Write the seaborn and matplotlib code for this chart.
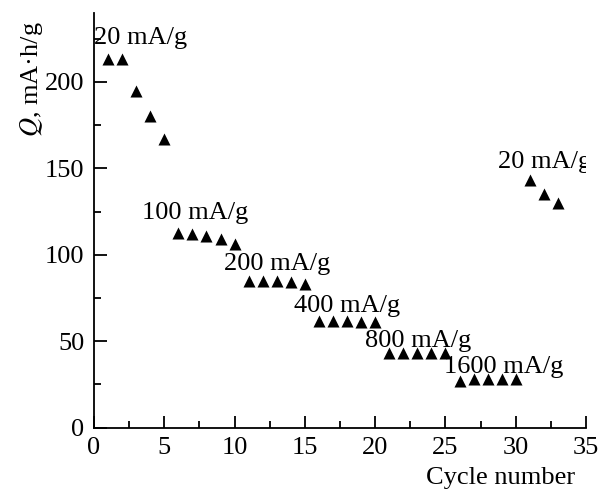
import matplotlib
matplotlib.use("Agg")
import matplotlib.pyplot as plt
import seaborn as sns
import pandas as pd
from matplotlib.ticker import MultipleLocator

cycles = list(range(1, 31)) + [31, 32, 33]
capacity = [213, 213, 195, 180, 167,
            112.5, 112, 111, 109, 106,
            85, 85, 85, 84, 83,
            62, 62, 62, 61, 61,
            43, 43, 43, 43, 43,
            27, 28, 28, 28, 28,
            143, 135, 130]
rate_labels = ["20 mA/g", "100 mA/g", "200 mA/g", "400 mA/g",
               "800 mA/g", "1600 mA/g", "20 mA/g"]
label_x = [0.0, 3.4, 9.26, 14.25, 19.25, 24.9, 28.73]
label_y = [222, 121, 91, 67, 46.8, 31.4, 150.3]

sns.set_style("ticks", {"axes.edgecolor": "black", "xtick.color": "black",
                        "ytick.color": "black", "text.color": "black",
                        "axes.labelcolor": "black"})
plt.rcParams["font.family"] = ["Liberation Serif", "DejaVu Serif"]
plt.rcParams["mathtext.fontset"] = "stix"

df = pd.DataFrame({"cycle": cycles, "Q": capacity})

fig = plt.figure(figsize=(6, 4.9), dpi=100)
ax = fig.add_axes([0.1567, 0.1271, 0.82, 0.8469])
sns.scatterplot(data=df, x="cycle", y="Q", marker="^", s=75, color="black",
                linewidth=0, ax=ax, legend=False)

for t, x, y in zip(rate_labels, label_x, label_y):
    ax.text(x, y, t, fontsize=19, ha="left", va="baseline", clip_on=True,
            color="black")

ax.set_xlim(0, 35)
ax.set_ylim(0, 240)
ax.xaxis.set_major_locator(MultipleLocator(5))
ax.xaxis.set_minor_locator(MultipleLocator(2.5))
ax.yaxis.set_major_locator(MultipleLocator(50))
ax.yaxis.set_minor_locator(MultipleLocator(25))
ax.tick_params(which="both", direction="in", width=1.3, labelsize=19, pad=7,
               color="black", labelcolor="black")
ax.tick_params(which="major", length=9)
ax.tick_params(which="minor", length=5)
for side in ["top", "right"]:
    ax.spines[side].set_visible(False)
for side in ["left", "bottom"]:
    ax.spines[side].set_linewidth(1.3)
    ax.spines[side].set_color("black")

ax.set_xlabel("Cycle number", fontsize=19, ha="right", color="black")
ax.xaxis.set_label_coords(0.978, -0.095)
ax.set_ylabel(r"$\mathit{Q}$, mA·h/g", fontsize=19, ha="right", color="black")
ax.yaxis.set_label_coords(-0.1, 0.98)

fig.savefig("out.png", dpi=100)
